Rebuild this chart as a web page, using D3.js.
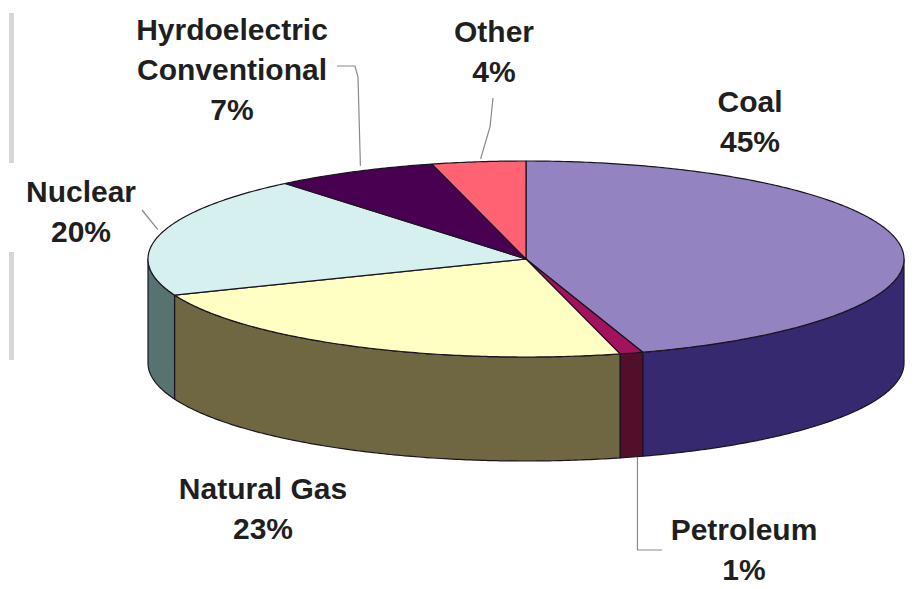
<!DOCTYPE html>
<html>
<head>
<meta charset="utf-8">
<script src="https://cdn.jsdelivr.net/npm/d3@7"></script>
<style>
  html, body { margin: 0; padding: 0; background: #fff; }
  svg { display: block; }
</style>
</head>
<body>
<svg id="chart" width="918" height="589"></svg>
<script>
// U.S. electricity generation by source (share of total, %)
const categories = ["Coal", "Petroleum", "Natural Gas", "Nuclear", "Hyrdoelectric Conventional", "Other"];
const shares = [45, 1, 23, 20, 7, 4];
const labelLines = [["Coal"], ["Petroleum"], ["Natural Gas"], ["Nuclear"], ["Hyrdoelectric", "Conventional"], ["Other"]];
const topColors = ["#9384c1", "#a3135d", "#ffffc4", "#d6efef", "#4a0050", "#ff6272"];
const sideColors = ["#36296f", "#520f2a", "#6f6741", "#587171", "#2e0032", "#a03a44"];

// Layout of the tilted disc
const cx = 526, cy = 259, rx = 378, ry = 98, depth = 104;
// Label block placement: centre x, first baseline y
const labelPos = [
  { x: 750, y: 112 },
  { x: 744, y: 540 },
  { x: 263, y: 499 },
  { x: 81,  y: 202 },
  { x: 232, y: 40 },
  { x: 494, y: 42 }
];
const lineGap = 40;

const svg = d3.select("#chart");

// Faint rule along the left margin
svg.append("g").selectAll("rect")
  .data([[13, 163], [252, 360]])
  .join("rect")
  .attr("x", 9).attr("width", 5)
  .attr("y", d => d[0]).attr("height", d => d[1] - d[0])
  .attr("fill", "#d7d7d7");

const pie = d3.pie().sort(null).value(d => d).startAngle(0).endAngle(2 * Math.PI);
const arcs = pie(shares);

// Angle 0 is 12 o'clock, increasing clockwise, projected onto an ellipse
const pt = (a, dy = 0) => [cx + rx * Math.sin(a), cy - ry * Math.cos(a) + dy];
function sample(a0, a1, dy = 0) {
  const n = Math.max(2, Math.ceil(Math.abs(a1 - a0) / 0.01));
  return d3.range(n + 1).map(i => pt(a0 + (a1 - a0) * i / n, dy));
}
const line = d3.line();

// Front wall: only the part facing the viewer (between 3 and 9 o'clock)
const gSide = svg.append("g");
arcs.forEach((d, i) => {
  const lo = Math.max(d.startAngle, Math.PI / 2);
  const hi = Math.min(d.endAngle, 3 * Math.PI / 2);
  if (lo >= hi) return;
  const pts = sample(lo, hi).concat(sample(hi, lo, depth));
  gSide.append("path")
    .attr("d", line(pts) + "Z")
    .attr("fill", sideColors[i])
    .attr("stroke", "#1a1420")
    .attr("stroke-width", 1.2)
    .attr("stroke-linejoin", "round");
});

// Top face wedges
const gTop = svg.append("g");
arcs.forEach((d, i) => {
  const pts = [[cx, cy]].concat(sample(d.startAngle, d.endAngle));
  gTop.append("path")
    .attr("d", line(pts) + "Z")
    .attr("fill", topColors[i])
    .attr("stroke", "#1a1420")
    .attr("stroke-width", 1.2)
    .attr("stroke-linejoin", "round");
});

// Leader lines from labels to their wedges
const mid = d => (d.startAngle + d.endAngle) / 2;
const leaders = [];
{
  const a = pt(mid(arcs[4])); // hydro
  leaders.push([[337, 66], [355, 66], [358, 77], [a[0] + 6, a[1] - 6]]);
}
{
  const a = pt(mid(arcs[5])); // other
  leaders.push([[493, 98], [490, 127], [a[0] + 2, a[1] - 3]]);
}
{
  const a = pt(mid(arcs[3])); // nuclear
  leaders.push([[142, 210], [a[0] - 2, a[1] - 5]]);
}
{
  const a = pt(mid(arcs[1]), depth); // petroleum, lower rim
  leaders.push([[a[0] + 6, a[1]], [a[0] + 6, 550], [662, 550]]);
}
svg.append("g").selectAll("path")
  .data(leaders)
  .join("path")
  .attr("d", d => line(d))
  .attr("fill", "none")
  .attr("stroke", "#8a8a8a")
  .attr("stroke-width", 1.2);

// Category labels with percentages
const gLab = svg.append("g")
  .attr("font-family", "'Liberation Sans', Arial, sans-serif")
  .attr("font-weight", "bold")
  .attr("font-size", 30)
  .attr("fill", "#1f1f1f")
  .attr("text-anchor", "middle");
arcs.forEach((d, i) => {
  const lines = labelLines[i].concat([shares[i] + "%"]);
  const t = gLab.append("text");
  lines.forEach((s, k) => {
    t.append("tspan")
      .attr("x", labelPos[i].x)
      .attr("y", labelPos[i].y + k * lineGap)
      .text(s);
  });
});
</script>
</body>
</html>
